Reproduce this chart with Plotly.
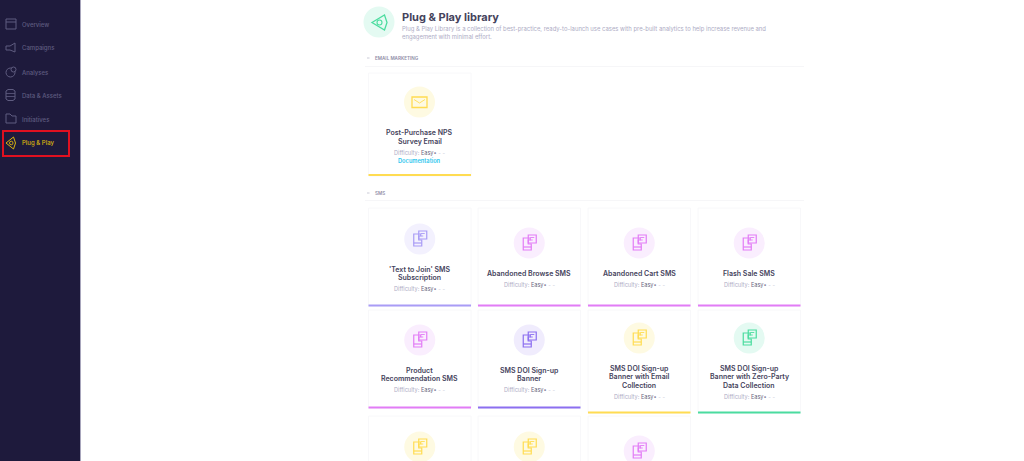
import plotly.graph_objects as go

# sidebar
nav_labels = ["Overview", "Campaigns", "Analyses", "Data & Assets", "Initiatives", "Plug & Play"]
nav_y = [24, 48, 72, 95, 119, 143]

# cards, row by row
card_titles = [
    ["'Text to Join' SMS", "Subscription"], ["Abandoned Browse SMS"], ["Abandoned Cart SMS"], ["Flash Sale SMS"],
    ["Product", "Recommendation SMS"], ["SMS DOI Sign-up", "Banner"],
    ["SMS DOI Sign-up", "Banner with Email", "Collection"],
    ["SMS DOI Sign-up", "Banner with Zero-Party", "Data Collection"],
    [], [], [],
]
card_col = [0, 1, 2, 3, 0, 1, 2, 3, 0, 1, 2]
card_top = [208, 208, 208, 208, 310, 310, 310, 310, 416, 416, 416]
card_bottom = [305, 305, 305, 305, 407, 407, 412, 412, 470, 470, 470]
card_circle_y = [239, 243, 243, 243, 340, 340, 338, 338, 447, 447, 451]
card_title_y = [269, 273, 273, 273, 370, 370, 368, 368, 0, 0, 0]
card_kind = ["lilac", "pink", "pink", "pink", "pink", "purple", "yellow", "green", "yellow", "yellow", "pink"]

col_left = [368.5, 478, 588, 698]
card_w = 102.5
line_h = 8.7

accent = {"lilac": "#a99cf6", "pink": "#e27cf6", "purple": "#8c6ff0", "yellow": "#ffdc52", "green": "#4bdc9f"}
tint = {"lilac": "#f3f1fe", "pink": "#faeefe", "purple": "#f0ecfd", "yellow": "#fefae2", "green": "#e4faf2"}

FONT = "Inter"
DARK = "#45435c"
GREY = "#aeacc5"
CARD_EDGE = "#f8f8fa"

fig = go.Figure()
shapes = []
notes = []


def text(x, y, s, size, color, anchor="left", weight=400):
    notes.append(dict(x=x, y=y, text=s, showarrow=False, xanchor=anchor, yanchor="middle",
                      xshift=-2 if anchor == "left" else 0,
                      font=dict(family=FONT, size=size, color=color, weight=weight)))


def box(x0, y0, x1, y1, fill=None, line=None, width=1):
    shapes.append(dict(type="rect", x0=x0, y0=y0, x1=x1, y1=y1, layer="below",
                       fillcolor=fill or "rgba(0,0,0,0)",
                       line=dict(color=line or "rgba(0,0,0,0)", width=width if line else 0)))


def outline(points, color, width=1.2, closed=True):
    d = "M" + " L".join(f"{x},{y}" for x, y in points) + (" Z" if closed else "")
    shapes.append(dict(type="path", path=d, line=dict(color=color, width=width), layer="above"))


def sms_icon(cx, cy, color):
    # phone with a note on its corner
    outline([(cx - 6, cy - 5), (cx + 1, cy - 5), (cx + 1, cy - 3), (cx - 1, cy - 3), (cx - 1, cy + 1), (cx + 2, cy + 1),
             (cx + 2, cy + 7), (cx - 6, cy + 7)], color)
    outline([(cx - 6, cy + 4), (cx + 2, cy + 4)], color, closed=False)
    outline([(cx - 1, cy - 8), (cx + 7, cy - 8), (cx + 7, cy), (cx - 1, cy)], color)
    outline([(cx + 1, cy - 5.5), (cx + 5, cy - 5.5)], color, 0.9, False)
    outline([(cx + 1, cy - 3), (cx + 3.5, cy - 3)], color, 0.9, False)


def difficulty(x, y):
    text(x, y, f"<span style='color:{GREY}'>Difficulty:</span> <span style='color:#6a6880'>Easy</span>"
               "<span style='color:#8a88a0'>•</span><span style='color:#c9c8d8'> - -</span>",
         5.6, GREY, "center")


# sidebar
box(0, 0, 80, 461, fill="#1e1a3c")
box(80, 0, 81, 461, fill="#a8a6bc")
box(3, 131, 69, 156, line="#e01020", width=2)
for label, y in zip(nav_labels, nav_y):
    active = label == "Plug & Play"
    text(22, y, label, 6, "#d9b40e" if active else "#5f5c80", weight=500)
    c = "#d9b40e" if active else "#5f5c80"
    if label == "Overview":
        outline([(6, y - 5), (16, y - 5), (16, y + 5), (6, y + 5)], c, 1)
        outline([(6, y - 2), (16, y - 2)], c, 1, False)
    elif label == "Campaigns":
        outline([(6, y - 2), (10, y - 2), (15, y - 5), (15, y + 4), (10, y + 2), (6, y + 2)], c, 1)
    elif label == "Analyses":
        shapes.append(dict(type="circle", x0=6, x1=15, y0=y - 4, y1=y + 5, line=dict(color=c, width=1), layer="above"))
        shapes.append(dict(type="circle", x0=11, x1=16, y0=y - 5, y1=y, line=dict(color=c, width=1),
                           fillcolor="#1e1a3c", layer="above"))
    elif label == "Data & Assets":
        outline([(6, y - 4), (8, y - 5.5), (13, y - 5.5), (15, y - 4), (15, y + 4), (13, y + 5.5), (8, y + 5.5), (6, y + 4)], c, 1)
        outline([(6, y - 1.5), (15, y - 1.5)], c, 0.8, False)
        outline([(6, y + 1.5), (15, y + 1.5)], c, 0.8, False)
    elif label == "Initiatives":
        outline([(6, y - 5), (10, y - 5), (12, y - 3), (16, y - 3), (16, y + 4), (6, y + 4)], c, 1)
    else:
        outline([(6, y), (13.5, y - 6), (15.5, y), (13.5, y + 6)], c, 1)
        shapes.append(dict(type="circle", x0=9.5, x1=13, y0=y - 1.8, y1=y + 1.8, line=dict(color=c, width=0.9), layer="above"))

# header
head_color = accent["green"]
outline([(372, 22.5), (384.5, 15), (387, 22.5), (384.5, 30)], head_color, 1.3)
shapes.append(dict(type="circle", x0=377, x1=382, y0=20, y1=25, line=dict(color=head_color, width=1.1), layer="above"))
text(402, 17, "Plug & Play library", 11, DARK, weight=700)
text(402, 28.5, "Plug & Play Library is a collection of best-practice, ready-to-launch use cases with pre-built analytics to help increase revenue and", 5.9, GREY)
text(402, 36.5, "engagement with minimal effort.", 5.9, GREY)

# section headers
for label, y, rule_y in [("EMAIL MARKETING", 58, 66), ("SMS", 193, 200)]:
    text(374.5, y, label, 4.6, "#8f8da6", weight=600)
    outline([(367, y), (369.5, y)], "#b5b4c6", 0.7, False)
    box(365, rule_y, 804, rule_y + 1, fill="#f6f6f8")

# email card
box(368.5, 73, 471, 176, fill="#ffffff", line=CARD_EDGE)
box(368.5, 174, 471, 176, fill=accent["yellow"])
ic = accent["yellow"]
outline([(412, 97), (427, 97), (427, 107.5), (412, 107.5)], ic, 1.3)
outline([(414, 99.5), (419.5, 103), (425, 99.5)], ic, 0.9, False)
text(419.5, 132.5, "Post-Purchase NPS", 7, DARK, "center", 600)
text(419.5, 141, "Survey Email", 7, DARK, "center", 600)
difficulty(419.5, 152)
text(419.5, 160, "Documentation", 5.7, "#2cc6ee", "center", 600)

# sms cards
for i, titles in enumerate(card_titles):
    x0 = col_left[card_col[i]]
    x1 = x0 + card_w
    cx = x0 + card_w / 2
    color = accent[card_kind[i]]
    box(x0, card_top[i], x1, card_bottom[i] + 1, fill="#ffffff", line=CARD_EDGE)
    box(x0, card_bottom[i] - 0.5, x1, card_bottom[i] + 1.5, fill=color)
    sms_icon(cx, card_circle_y[i], color)
    for j, line in enumerate(titles):
        text(cx, card_title_y[i] + j * line_h, line, 7, DARK, "center", 600)
    if titles:
        difficulty(cx, card_title_y[i] + (len(titles) - 1) * line_h + 11)

# icon discs
disc_x = [419.5] + [col_left[c] + card_w / 2 for c in card_col] + [379]
disc_y = [102] + card_circle_y + [22]
disc_color = [tint["yellow"]] + [tint[k] for k in card_kind] + [tint["green"]]
fig.add_trace(go.Scatter(x=disc_x, y=disc_y, mode="markers", hoverinfo="skip",
                         marker=dict(size=31, color=disc_color, line=dict(width=0))))

fig.update_layout(
    width=1024, height=461, margin=dict(l=0, r=0, t=0, b=0), showlegend=False,
    paper_bgcolor="#ffffff", plot_bgcolor="#ffffff", shapes=shapes, annotations=notes,
    xaxis=dict(range=[0, 1024], visible=False, fixedrange=True),
    yaxis=dict(range=[461, 0], visible=False, fixedrange=True),
)

# page margin would push the picture 8px in
fig.write_html("out.html", config={"displayModeBar": False},
               post_script="document.body.style.margin='0';document.body.style.overflow='hidden';")
